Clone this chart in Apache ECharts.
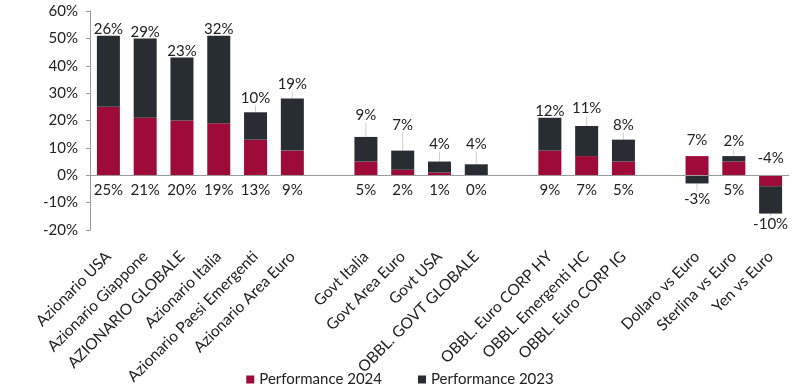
<!DOCTYPE html>
<html>
<head>
<meta charset="utf-8">
<script src="https://cdn.jsdelivr.net/npm/echarts@6/dist/echarts.min.js"></script>
<style>html,body{margin:0;padding:0;background:#fff;}#c{width:800px;height:388px;}</style>
</head>
<body>
<div id="c"></div>
<script>
var categories = ['Azionario USA','Azionario Giappone','AZIONARIO GLOBALE','Azionario Italia','Azionario Paesi Emergenti','Azionario Area Euro','',
  'Govt Italia','Govt Area Euro','Govt USA','OBBL. GOVT GLOBALE','',
  'OBBL. Euro CORP HY','OBBL. Emergenti HC','OBBL. Euro CORP IG','',
  'Dollaro vs Euro','Sterlina vs Euro','Yen vs Euro'];
var perf2024 = [25,21,20,19,13,9,null,5,2,1,0,null,9,7,5,null,7,5,-4];
var perf2023 = [26,29,23,32,10,19,null,9,7,4,4,null,12,11,8,null,-3,2,-10];
var yTicks = {min:-20, max:60, interval:10};

// label styling tweaks (not data)
var pos2024 = {16:'top', 18:'top'};
var pos2023 = {16:'bottom', 18:'bottom'};
var nudge2024 = {16:-3, 18:-5};
var nudge2023 = {4:-8,5:-8,7:-15,8:-19,9:-11,10:-14,12:0,13:-11,14:-8,16:5,17:-8};

var FONT = 'Lato';
var RED = '#9e0b38', DARK = '#272d32';

function build(vals, posMap, defPos, dist, altDist) {
  return vals.map(function(v,i){
    if (v === null) return '-';
    var p = posMap[i] || defPos;
    return {value: v, label: {position: p, distance: posMap[i] ? altDist : dist}};
  });
}

var chart = echarts.init(document.getElementById('c'));
chart.setOption({
  animation: false,
  textStyle: {fontFamily: FONT},
  grid: {left: 90, right: 11, top: 11, bottom: 158, containLabel: false, outerBoundsMode: 'none'},
  legend: {
    data: ['Performance 2024','Performance 2023'],
    top: 367, left: 'center',
    icon: 'rect', itemWidth: 8, itemHeight: 8, itemGap: 36,
    textStyle: {fontFamily: FONT, fontSize: 15, color: '#222'}
  },
  xAxis: {
    type: 'category', data: categories,
    axisLine: {show: false, onZero: false},
    axisTick: {show: false},
    axisLabel: {interval: 0, rotate: 45, fontFamily: FONT, fontSize: 15.5, color: '#222', margin: 24}
  },
  yAxis: {
    type: 'value', min: yTicks.min, max: yTicks.max, interval: yTicks.interval,
    axisLine: {show: true, lineStyle: {color: '#9a9a9a'}},
    axisTick: {show: true, length: 4, lineStyle: {color: '#9a9a9a'}},
    splitLine: {show: false},
    axisLabel: {formatter: '{value}%', fontFamily: FONT, fontSize: 15, color: '#222', margin: 12}
  },
  series: [
    {
      name: 'Performance 2024', type: 'bar', stack: 'tot', barWidth: 23,
      itemStyle: {color: RED},
      data: build(perf2024, pos2024, 'bottom', 7, 5),
      label: {show: true, formatter: function(p){return p.value + '%';}, fontFamily: FONT, fontSize: 15, color: '#222'},
      labelLayout: function(p){ return {dy: nudge2024[p.dataIndex] || 0}; },
      markLine: {silent: true, symbol: 'none', label: {show: false},
        lineStyle: {color: '#9a9a9a', width: 1, type: 'solid'}, data: [{yAxis: 0}]},
      z: 2
    },
    {
      name: 'Performance 2023', type: 'bar', stack: 'tot', barWidth: 23,
      itemStyle: {color: DARK},
      data: build(perf2023, pos2023, 'top', -1, 3),
      label: {show: true, formatter: function(p){return p.value + '%';}, fontFamily: FONT, fontSize: 15, color: '#222'},
      labelLine: {show: true, lineStyle: {color: '#cfcfcf', width: 1}},
      labelLayout: function(p){ return {dy: nudge2023[p.dataIndex] || 0}; },
      z: 2
    }
  ]
});
</script>
</body>
</html>
